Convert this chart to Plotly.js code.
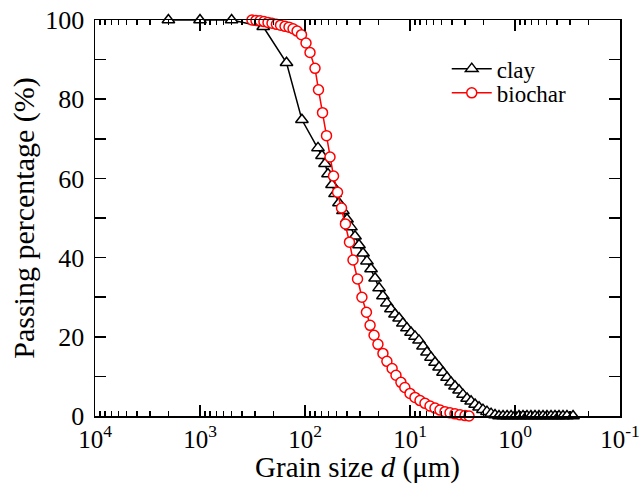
<!DOCTYPE html>
<html>
<head>
<meta charset="utf-8">
<script src="https://cdn.plot.ly/plotly-3.0.1.min.js"></script>
<style>html,body{margin:0;padding:0;background:#fff;}#chart{width:639px;height:484px;}</style>
</head>
<body>
<div id="chart"></div>
<script>
// Grain size (μm) and passing percentage (%) for clay
const clayD = [2000, 1000, 500, 250, 150, 107,
  75.2, 68.9, 64.5, 60.4, 55.3, 51.8, 47.5, 43.5, 39.8, 36.5,
  33.4, 30.6, 28.0, 25.7, 23.5, 21.5, 19.7, 18.1, 16.6, 15.2,
  13.9, 12.7, 11.7, 10.7, 9.78, 8.96, 8.21, 7.52, 6.89, 6.31,
  5.78, 5.29, 4.85, 4.44, 4.07, 3.73, 3.41, 3.13, 2.86, 2.62,
  2.40, 2.20, 2.02, 1.85, 1.69, 1.55,
  1.42, 1.30, 1.19, 1.09, 1.00, 0.916, 0.839, 0.769, 0.705, 0.645,
  0.591, 0.541, 0.496, 0.454, 0.416, 0.381, 0.349, 0.320, 0.28];
const clayP = [100, 100, 100, 98.3, 89.2, 74.8,
  67.7, 65.7, 63.7, 61.1, 58.4, 56.1, 53.8, 51.8, 49.7, 47.7,
  45.4, 43.2, 41.1, 39.1, 37.1, 34.8, 32.3, 30.3, 28.5, 27.0,
  25.7, 24.7, 23.4, 22.2, 21.1, 20.1, 19.1, 17.6, 16.1, 14.8,
  13.5, 12.3, 11.0, 9.7, 8.5, 7.5, 6.5, 5.4, 4.4, 3.7,
  2.9, 2.2, 1.6, 1.1, 0.6, 0.25,
  0, 0, 0, 0, 0, 0, 0, 0, 0, 0,
  0, 0, 0, 0, 0, 0, 0, 0, 0];

// Grain size (μm) and passing percentage (%) for biochar
const bioD = [320, 293, 268, 246, 225, 206, 187, 171, 155, 142,
  130, 119, 108, 97.8, 89.6, 80.3, 74.4, 68.1, 62.4, 57.8,
  53.5, 49.0, 44.9, 41.2, 37.7, 34.9, 31.6, 28.7, 26.0, 24.0,
  22.0, 20.2, 18.1, 16.6, 14.8, 13.6, 12.2, 11.2, 10.0, 8.96,
  8.03, 7.20, 6.45, 5.78, 5.18, 4.64, 4.16, 3.73, 3.34, 2.99,
  2.74];
const bioP = [100, 99.9, 99.8, 99.6, 99.4, 99.2, 98.9, 98.7, 98.4, 98.2,
  97.8, 97.2, 96.3, 94.2, 91.8, 87.8, 82.4, 76.6, 70.8, 65.4,
  60.6, 56.5, 52.5, 48.5, 43.9, 39.4, 34.6, 30.0, 26.2, 22.9,
  20.4, 18.1, 15.8, 13.8, 12.0, 10.3, 8.5, 7.2, 5.7, 4.7,
  3.9, 3.2, 2.5, 2.0, 1.5, 1.1, 0.8, 0.55, 0.3, 0.1,
  0];

const seriesNames = ['clay', 'biochar'];

// Tick labels
const xTickVals = [10000, 1000, 100, 10, 1, 0.1];
const xTickText = ['10<sup>4</sup>', '10<sup>3</sup>', '10<sup>2</sup>', '10<sup>1</sup>', '10<sup>0</sup>', '10<sup>-1</sup>'];
const yTickVals = [0, 20, 40, 60, 80, 100];
const yTickText = ['0', '20', '40', '60', '80', '100'];

const minorVals = [];
[1000, 100, 10, 1, 0.1].forEach(function (dec) {
  for (let k = 2; k <= 9; k++) minorVals.push(dec * k);
});

const FONT = '"Liberation Serif", "Times New Roman", Times, serif';

const traces = [
  {
    x: clayD, y: clayP, name: seriesNames[0], type: 'scatter', mode: 'lines+markers',
    line: {color: 'black', width: 1.5},
    marker: {symbol: 'triangle-up', size: 11, color: 'white', line: {color: 'black', width: 1.5}},
    cliponaxis: false, legend: 'legend'
  },
  {
    x: bioD, y: bioP, name: seriesNames[1], type: 'scatter', mode: 'lines+markers',
    line: {color: '#ff0000', width: 1.5},
    marker: {symbol: 'circle', size: 10, color: 'white', line: {color: '#ff0000', width: 1.5}},
    cliponaxis: false, legend: 'legend2'
  }
];

const axisCommon = {
  showline: true, linecolor: 'black', linewidth: 1.5, mirror: 'ticks',
  ticks: 'inside', ticklen: 11, tickwidth: 1.5, tickcolor: 'black',
  showgrid: false, zeroline: false,
  ticklabeloverflow: 'allow',
  tickfont: {family: FONT, size: 25, color: 'black'}
};

const layout = {
  width: 639, height: 484,
  margin: {l: 95, r: 19, t: 20, b: 68},
  paper_bgcolor: 'white', plot_bgcolor: 'white',
  font: {family: FONT, color: 'black', size: 24},
  showlegend: true,
  xaxis: Object.assign({}, axisCommon, {
    type: 'log', range: [4, -1], autorange: false,
    tickmode: 'array', tickvals: xTickVals, ticktext: xTickText,
    ticklabelstandoff: 0,
    minor: {tickmode: 'array', tickvals: minorVals, ticks: 'inside', ticklen: 5, tickwidth: 1.5, tickcolor: 'black', showgrid: false},
    title: {text: 'Grain size <i>d</i> (μm)', font: {family: FONT, size: 29, color: 'black'}, standoff: 5},
    automargin: false
  }),
  yaxis: Object.assign({}, axisCommon, {
    range: [0, 100], autorange: false,
    tickmode: 'array', tickvals: yTickVals, ticktext: yTickText,
    tickfont: {family: FONT, size: 26, color: 'black'},
    minor: {tickmode: 'array', tickvals: [10, 30, 50, 70, 90], ticks: 'inside', ticklen: 11, tickwidth: 1.5, tickcolor: 'black', showgrid: false},
    ticklabelstandoff: 4,
    title: {text: 'Passing percentage (%)', font: {family: FONT, size: 30, color: 'black'}, standoff: 2},
    automargin: false
  }),
  legend: {x: 0.67, y: 0.877, xanchor: 'left', yanchor: 'middle', bgcolor: 'rgba(0,0,0,0)', borderwidth: 0,
    itemwidth: 40, font: {family: FONT, size: 23, color: 'black'}},
  legend2: {x: 0.67, y: 0.816, xanchor: 'left', yanchor: 'middle', bgcolor: 'rgba(0,0,0,0)', borderwidth: 0,
    itemwidth: 40, font: {family: FONT, size: 23, color: 'black'}}
};

Plotly.newPlot('chart', traces, layout, {displayModeBar: false, staticPlot: true});
</script>
</body>
</html>
